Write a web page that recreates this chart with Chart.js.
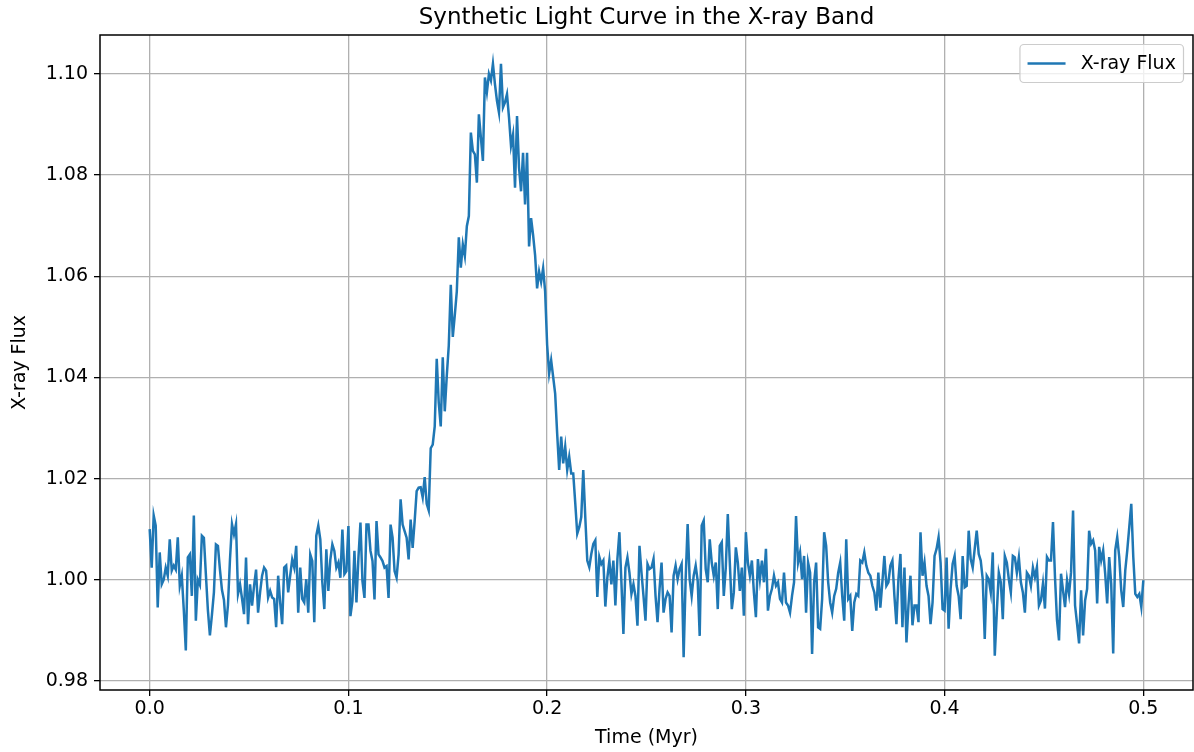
<!DOCTYPE html>
<html><head><meta charset="utf-8">
<script src="https://cdn.jsdelivr.net/npm/chart.js@4.4.0/dist/chart.umd.min.js"></script>
<style>html,body{margin:0;padding:0;background:#fff;}#wrap{width:1194px;height:752px;}</style>
</head><body><div id="wrap"><canvas id="c" width="1194" height="752"></canvas></div>
<script>
const chartTitle = 'Synthetic Light Curve in the X-ray Band';
const xAxisLabel = 'Time (Myr)';
const yAxisLabel = 'X-ray Flux';
const seriesName = 'X-ray Flux';
const timeStart = 0.0;
const timeEnd = 0.5;
const xTicks = [0.0, 0.1, 0.2, 0.3, 0.4, 0.5];
const yTicks = [0.98, 1.00, 1.02, 1.04, 1.06, 1.08, 1.10];

const fluxQuiet1 = [1.010, 1.0024, 1.0127, 1.0107, 0.9945, 1.0054, 0.9991, 1.000, 1.0024, 1.0008, 1.008, 1.0018, 1.0028, 1.002, 1.0084, 0.9988, 1.0008, 0.994, 0.986, 1.0044, 1.005, 0.9968, 1.0127, 0.9919, 1.000, 0.999, 1.0087, 1.0083, 1.001, 0.994, 0.989, 0.993, 0.9975, 1.007, 1.0067, 1.002, 0.998, 0.996, 0.9906, 0.995, 1.004, 1.011, 1.009];
const fluxQuiet2 = [1.011, 0.9972, 0.9991, 0.9963, 0.9932, 1.0044, 0.9912, 0.9991, 0.9949, 0.9988, 1.002, 0.9935, 0.9975, 1.0008, 1.0024, 1.0018, 0.9965, 0.9978, 0.9965, 0.9962, 0.9906, 1.0008, 0.9955, 0.9912, 1.0024, 1.0028, 0.9975, 1.0008, 1.004, 1.0024, 1.0067, 0.9935, 1.0024, 0.9962, 0.9955, 1.0001, 0.9935, 1.005, 1.0037, 0.9916, 1.0087, 1.0107, 1.008, 0.9995, 0.9942];
const fluxPreFlare = [1.006, 0.9978, 1.004, 1.007, 1.0057, 1.0024, 1.0034, 1.0004, 1.0099, 1.0011, 1.0017, 1.0106, 0.9928, 0.9958, 1.0057, 0.9955, 1.0044, 1.0113, 0.9997, 0.9964, 1.0109, 1.0109, 1.0057, 1.0037, 0.9961, 1.0116, 1.005, 1.0044, 1.0037, 1.0024, 1.0027, 0.9964, 1.0109, 1.0083, 1.0017, 1.0004, 1.005, 1.0159, 1.0109, 1.0096, 1.0083, 1.004, 1.0119, 1.0063, 1.0116, 1.0175, 1.0182];
const fluxRise = [1.0183, 1.0163, 1.0203, 1.015, 1.0137, 1.026, 1.0267, 1.0303, 1.0437, 1.035, 1.0303, 1.044, 1.0333, 1.0403, 1.0463, 1.0583, 1.048, 1.0523, 1.057, 1.0677, 1.0617, 1.0663, 1.064, 1.0699, 1.0719, 1.0884, 1.0848, 1.0841, 1.0785, 1.092, 1.0874, 1.0828, 1.0993, 1.0964, 1.10];
const fluxDecay = [1.0987, 1.102, 1.098, 1.0947, 1.0924, 1.102, 1.0934, 1.0944, 1.096, 1.0914, 1.0858, 1.088, 1.0775, 1.0917, 1.0815, 1.0768, 1.0844, 1.0742, 1.0844, 1.0659, 1.0715, 1.0682, 1.0642, 1.0576, 1.0609, 1.0589, 1.0616, 1.057, 1.0464, 1.0408, 1.0434, 1.0401, 1.0368, 1.0289, 1.0217];
const fluxTail = [1.0283, 1.023, 1.0263, 1.0217, 1.0243, 1.021, 1.021, 1.0152, 1.0091, 1.0104, 1.0124, 1.0217, 1.0124, 1.0038, 1.0025, 1.0051, 1.0071, 1.0078, 0.9966, 1.0045, 1.0031, 1.0038, 0.9947, 1.0004, 1.0038];
const fluxQuiet3 = [0.9991, 1.0038, 0.9949, 1.0041, 1.0094, 0.9995, 0.9893, 1.0024, 1.0044, 1.0014, 0.9972, 0.9991, 0.9968, 0.9909, 1.0067, 1.0014, 0.9968, 0.9919, 1.0031, 1.0021, 1.0024, 1.0041, 0.9968, 0.9916, 0.9982, 1.0034, 0.9935, 0.9962, 0.9975, 0.9968, 0.9896, 1.0008, 1.0028, 1.0001, 1.0021, 1.0031, 0.9847, 1.0001, 1.011, 1.0001, 0.9968, 1.0008, 1.0028, 0.9998, 0.9889, 1.0107, 1.0117, 1.0021, 0.9995, 1.008, 1.0034, 1.0008];
const fluxQuiet4 = [1.0034, 0.9942, 1.0067, 1.0074, 0.9968, 1.0024, 1.013, 1.0034, 0.9942, 0.9975, 1.0064, 1.0034, 0.9978, 1.0024, 0.9929, 1.0094, 1.0034, 1.0008, 1.0038, 0.9975, 0.9926, 1.0041, 1.0001, 1.0038, 0.9995, 1.0061, 0.9939, 0.9968, 0.9982, 1.0008, 0.9988, 0.9995, 0.9962, 0.9955, 1.0014, 0.9955, 0.9949, 0.9935, 0.9968, 0.9995, 1.0126, 1.0034, 1.0054, 1.0001, 1.0047, 0.9935, 1.0034, 1.0014, 0.9853, 0.9995, 1.0034, 0.9906];
const fluxQuiet5 = [0.9903, 0.9962, 1.0094, 1.0067, 0.9995, 0.9955, 0.9935, 0.9968, 0.9982, 1.0014, 1.0034, 0.9968, 0.9919, 1.008, 0.9962, 0.9968, 0.9899, 0.9955, 0.9972, 0.9968, 1.0038, 1.0034, 1.0054, 1.0028, 1.0014, 1.0008, 0.9988, 0.9975, 0.9939, 1.0014, 0.9945, 0.9995, 1.0047, 0.9988, 0.9995, 1.0028, 1.0038, 0.9968, 0.9912, 1.0001, 1.0051, 0.9906, 1.0024, 0.9876, 0.9949, 1.0008, 0.991, 0.9949, 0.9949, 0.9916, 1.0094, 1.0008];
const fluxQuiet6 = [1.0034, 0.9988, 0.9968, 0.9912, 0.9955, 1.0047, 1.0061, 1.0084, 1.0034, 0.9942, 0.9939, 1.0044, 0.9903, 0.9982, 1.0031, 1.0047, 0.9988, 0.9968, 0.9922, 1.0047, 0.9985, 0.9988, 1.0097, 1.0041, 1.0024, 1.0061, 1.0097, 1.0051, 1.0038, 1.0001, 0.9883, 1.0008, 1.0001, 0.9975, 1.0054, 0.985, 0.9935, 1.0014, 0.9995, 0.9922, 1.0047, 1.0034, 1.0001, 0.9975, 1.0047, 1.0044, 1.0014, 1.0044, 0.9995, 0.9975, 0.9935, 1.0014, 1.0008, 0.9988, 1.0024];
const fluxQuiet7 = [1.0005, 1.0025, 0.9949, 0.9959, 0.9992, 0.9943, 1.0045, 1.0038, 1.0038, 1.0114, 1.0005, 0.992, 0.988, 1.0012, 0.9979, 0.9946, 0.9999, 0.9972, 1.0015, 1.0137, 0.9949, 0.9913, 0.9874, 0.9979, 0.989, 0.9959, 0.9982, 1.0097, 1.0071, 1.0078, 1.0058, 0.9953, 1.0065, 1.0038, 1.0058, 1.0012, 0.9953, 1.0045, 0.9992, 0.9854, 1.0058, 1.0084, 1.0045, 0.9979, 0.9946, 1.0018, 1.0058, 1.0104, 1.015, 1.0045, 0.9972, 0.9966, 0.9972, 0.9946, 0.9999];

const flux = [].concat(fluxQuiet1, fluxQuiet2, fluxPreFlare, fluxRise, fluxDecay, fluxTail,
  fluxQuiet3, fluxQuiet4, fluxQuiet5, fluxQuiet6, fluxQuiet7);
const times = flux.map((_, i) => timeStart + (timeEnd - timeStart) * i / (flux.length - 1));

const FONT = 'DejaVu Sans';
const TICK_SIZE = 19;
const LABEL_SIZE = 19;
const LEGEND_SIZE = 19;
const TITLE_SIZE = 23;
const LINE_COLOR = '#1f77b4';

const framePlugin = {
  id: 'frame',
  afterDatasetsDraw(chart) {
    const {ctx, chartArea: a} = chart;
    ctx.save();
    ctx.strokeStyle = '#000';
    ctx.lineWidth = 1.5;
    ctx.strokeRect(a.left, a.top, a.right - a.left, a.bottom - a.top);
    ctx.restore();

    // legend (upper right, inside the axes)
    const em = LEGEND_SIZE;
    ctx.save();
    ctx.font = LEGEND_SIZE + 'px "' + FONT + '"';
    const label = chart.data.datasets[0].label;
    const tw = ctx.measureText(label).width;
    const pad = 0.4 * em, handle = 2 * em, gap = 0.8 * em, axPad = 0.5 * em;
    const w = pad + handle + gap + tw + pad;
    const h = pad * 2 + em * 1.2;
    const x0 = a.right - axPad - w, y0 = a.top + axPad;
    const r = 4;
    ctx.beginPath();
    ctx.moveTo(x0 + r, y0);
    ctx.arcTo(x0 + w, y0, x0 + w, y0 + h, r);
    ctx.arcTo(x0 + w, y0 + h, x0, y0 + h, r);
    ctx.arcTo(x0, y0 + h, x0, y0, r);
    ctx.arcTo(x0, y0, x0 + w, y0, r);
    ctx.closePath();
    ctx.fillStyle = 'rgba(255,255,255,0.8)';
    ctx.fill();
    ctx.strokeStyle = '#cccccc';
    ctx.lineWidth = 1.2;
    ctx.stroke();
    const cy = y0 + h / 2;
    ctx.beginPath();
    ctx.moveTo(x0 + pad, cy);
    ctx.lineTo(x0 + pad + handle, cy);
    ctx.strokeStyle = LINE_COLOR;
    ctx.lineWidth = 2.5;
    ctx.stroke();
    ctx.fillStyle = '#000';
    ctx.textAlign = 'left';
    ctx.textBaseline = 'middle';
    ctx.fillText(label, x0 + pad + handle + gap, cy + 1);
    ctx.restore();
  },
  afterDraw(chart) {
    const {ctx, chartArea: a} = chart;
    ctx.save();
    ctx.fillStyle = '#000';
    ctx.font = TITLE_SIZE + 'px "' + FONT + '"';
    ctx.textAlign = 'center';
    ctx.textBaseline = 'alphabetic';
    ctx.fillText(chartTitle, (a.left + a.right) / 2, a.top - 11);
    ctx.restore();
  }
};

new Chart(document.getElementById('c').getContext('2d'), {
  type: 'line',
  data: {
    datasets: [{
      label: seriesName,
      data: times.map((t, i) => ({x: t, y: flux[i]})),
      borderColor: LINE_COLOR,
      backgroundColor: LINE_COLOR,
      borderWidth: 2.5,
      pointRadius: 0,
      tension: 0,
      fill: false
    }]
  },
  options: {
    responsive: false,
    animation: false,
    devicePixelRatio: 1,
    layout: {padding: {top: 35, right: 1, left: 0, bottom: 0}},
    plugins: {
      title: {display: false},
      tooltip: {enabled: false},
      legend: {display: false}
    },
    scales: {
      x: {
        type: 'linear',
        min: -0.025,
        max: 0.525,
        afterFit: s => { s.height = 62; },
        afterBuildTicks: s => { s.ticks = xTicks.map(v => ({value: v})); },
        ticks: {
          callback: v => Number(v).toFixed(1),
          color: '#000',
          padding: 2,
          maxRotation: 0,
          font: {family: FONT, size: TICK_SIZE}
        },
        grid: {color: '#b0b0b0', lineWidth: 1.3, drawTicks: true, tickLength: 6, tickColor: '#000', tickWidth: 1.3},
        border: {display: false},
        title: {display: true, text: xAxisLabel, color: '#000', padding: {top: 0, bottom: 3}, font: {family: FONT, size: LABEL_SIZE}}
      },
      y: {
        type: 'linear',
        min: 0.9782,
        max: 1.1077,
        afterFit: s => { s.width = 100; },
        afterBuildTicks: s => { s.ticks = yTicks.map(v => ({value: v})); },
        ticks: {
          callback: v => Number(v).toFixed(2),
          color: '#000',
          padding: 6,
          font: {family: FONT, size: TICK_SIZE}
        },
        grid: {color: '#b0b0b0', lineWidth: 1.3, drawTicks: true, tickLength: 6, tickColor: '#000', tickWidth: 1.3},
        border: {display: false},
        title: {display: true, text: yAxisLabel, color: '#000', padding: {top: 9, bottom: 0}, font: {family: FONT, size: LABEL_SIZE}}
      }
    }
  },
  plugins: [framePlugin]
});
</script>
</body></html>
